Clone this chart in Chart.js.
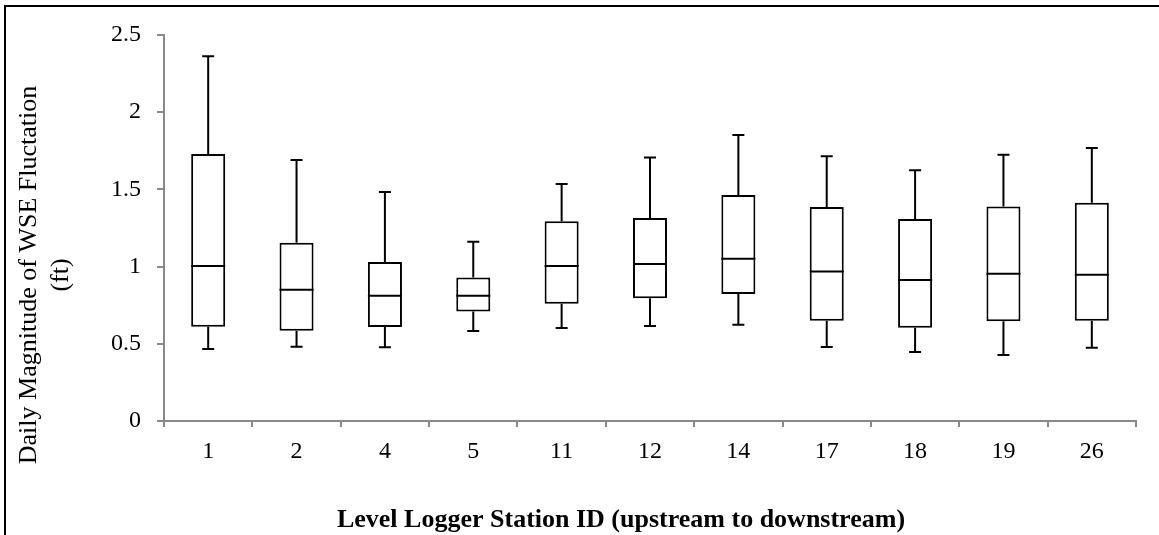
<!DOCTYPE html>
<html><head><meta charset="utf-8">
<script src="https://cdn.jsdelivr.net/npm/chart.js@4.4.1/dist/chart.umd.min.js"></script>
<style>html,body{margin:0;padding:0;background:#fff;overflow:hidden;}</style>
</head><body>
<canvas id="c" width="1159" height="535" style="display:block;width:1159px;height:535px;"></canvas>
<script>
const stations = ['1','2','4','5','11','12','14','17','18','19','26'];
const minVals    = [0.466,0.481,0.477,0.583,0.602,0.615,0.624,0.479,0.447,0.427,0.475];
const q1Vals     = [0.611,0.585,0.609,0.710,0.760,0.795,0.823,0.650,0.604,0.646,0.650];
const medianVals = [1.004,0.850,0.812,0.812,1.004,1.017,1.051,0.969,0.913,0.954,0.948];
const q3Vals     = [1.729,1.155,1.030,0.930,1.293,1.315,1.464,1.386,1.308,1.390,1.414];
const maxVals    = [2.362,1.690,1.483,1.161,1.535,1.706,1.852,1.714,1.624,1.725,1.768];
const yTickLabels = ['0','0.5','1','1.5','2','2.5'];
const yTitle = ['Daily Magnitude of WSE Fluctation', '(ft)'];
const xTitle = 'Level Logger Station ID (upstream to downstream)';

const AXIS = '#898989';
const SERIF = '"Liberation Serif", "Times New Roman", serif';

const boxPlugin = {
  id: 'boxWhiskers',
  afterDatasetsDraw(chart) {
    const ctx = chart.ctx, y = chart.scales.y;
    const meta = chart.getDatasetMeta(0);
    ctx.save();
    ctx.strokeStyle = '#000';
    ctx.lineWidth = 2;
    ctx.lineCap = 'butt';
    meta.data.forEach((bar, i) => {
      const x = bar.x, w = bar.width, cap = 12;
      const pMin = y.getPixelForValue(minVals[i]);
      const pQ1 = y.getPixelForValue(q1Vals[i]);
      const pMed = y.getPixelForValue(medianVals[i]);
      const pQ3 = y.getPixelForValue(q3Vals[i]);
      const pMax = y.getPixelForValue(maxVals[i]);
      ctx.beginPath();
      ctx.moveTo(x, pQ3); ctx.lineTo(x, pMax);
      ctx.moveTo(x - cap / 2, pMax); ctx.lineTo(x + cap / 2, pMax);
      ctx.moveTo(x, pQ1); ctx.lineTo(x, pMin);
      ctx.moveTo(x - cap / 2, pMin); ctx.lineTo(x + cap / 2, pMin);
      ctx.moveTo(x - w / 2, pMed); ctx.lineTo(x + w / 2, pMed);
      ctx.stroke();
    });
    ctx.restore();
  }
};

const framePlugin = {
  id: 'frame',
  beforeDraw(chart) {
    const ctx = chart.ctx;
    ctx.save();
    ctx.fillStyle = '#fff';
    ctx.fillRect(0, 0, chart.width, chart.height);
    ctx.strokeStyle = '#000';
    ctx.lineWidth = 2;
    ctx.beginPath();
    ctx.moveTo(5, chart.height + 2);
    ctx.lineTo(5, 6);
    ctx.lineTo(chart.width + 2, 6);
    ctx.stroke();
    ctx.restore();
  },
  afterDraw(chart) {
    const ctx = chart.ctx;
    ctx.save();
    ctx.fillStyle = '#000';
    ctx.textAlign = 'center';
    ctx.textBaseline = 'middle';
    // y axis title (two lines, rotated)
    ctx.font = '26px ' + SERIF;
    ctx.translate(29, 275);
    ctx.rotate(-Math.PI / 2);
    ctx.fillText(yTitle[0], 0, 0);
    ctx.fillText(yTitle[1], 0, 32);
    ctx.restore();
    ctx.save();
    ctx.fillStyle = '#000';
    ctx.textAlign = 'center';
    ctx.textBaseline = 'middle';
    ctx.font = 'bold 26px ' + SERIF;
    ctx.fillText(xTitle, 621, 520);
    ctx.restore();
  }
};

new Chart(document.getElementById('c'), {
  type: 'bar',
  data: {
    labels: stations,
    datasets: [{
      data: stations.map((s, i) => [q1Vals[i], q3Vals[i]]),
      backgroundColor: '#ffffff',
      borderColor: '#000000',
      borderWidth: 2,
      borderSkipped: false,
      categoryPercentage: 1,
      barPercentage: 0.385
    }]
  },
  options: {
    responsive: false,
    devicePixelRatio: 1,
    animation: false,
    layout: { padding: { top: 35, right: 23, left: 0, bottom: 0 } },
    plugins: { legend: { display: false }, tooltip: { enabled: false } },
    scales: {
      x: {
        type: 'category',
        grid: { display: true, drawOnChartArea: false, drawTicks: true, tickLength: 6, color: AXIS, lineWidth: 2, offset: true },
        border: { display: true, color: AXIS, width: 2 },
        ticks: { color: '#000', font: { family: SERIF, size: 24 }, padding: 10, maxRotation: 0, autoSkip: false },
        afterFit(s) { s.height = 114; }
      },
      y: {
        min: 0, max: 2.5,
        grid: { display: true, drawOnChartArea: false, drawTicks: true, tickLength: 7, color: AXIS, lineWidth: 2 },
        border: { display: true, color: AXIS, width: 2 },
        ticks: {
          stepSize: 0.5, color: '#000', font: { family: SERIF, size: 24 }, padding: 16,
          callback: (v) => yTickLabels[Math.round(v / 0.5)]
        },
        afterFit(s) { s.width = 164; }
      }
    }
  },
  plugins: [framePlugin, boxPlugin]
});
</script>
</body></html>
